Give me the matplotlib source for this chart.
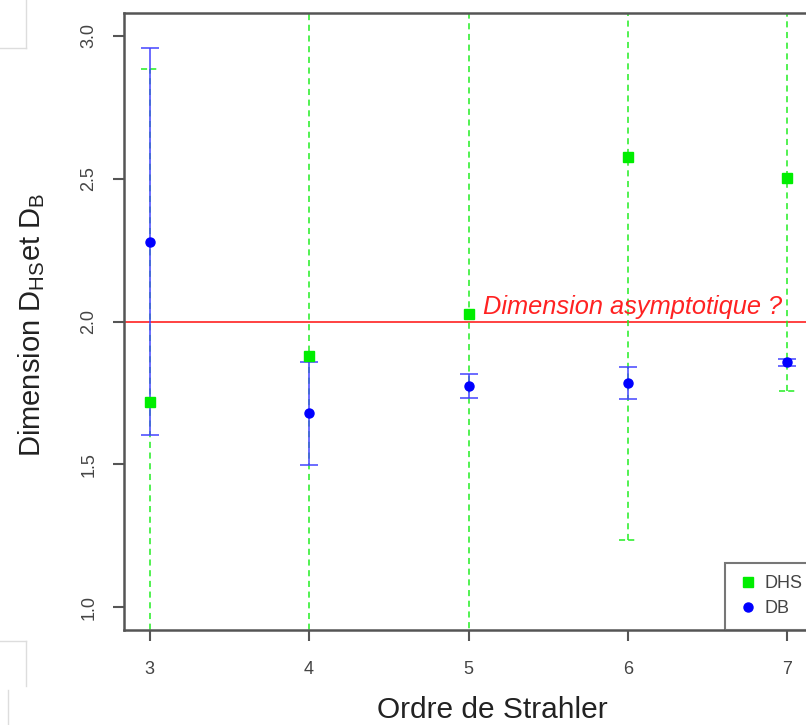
import numpy as np
import matplotlib
matplotlib.use("Agg")
from matplotlib import pyplot as plt
from matplotlib.lines import Line2D

plt.rcParams['font.family'] = ['Liberation Sans', 'DejaVu Sans']
plt.rcParams['mathtext.fontset'] = 'custom'
plt.rcParams['mathtext.rm'] = 'Liberation Sans'
plt.rcParams['mathtext.it'] = 'Liberation Sans:italic'

# ordre de Strahler
ordre = [3, 4, 5, 6, 7]
# DHS : valeur et demi-intervalle
dhs = [1.717, 1.878, 2.025, 2.577, 2.503]
dhs_err = [1.168, 1.30, 1.25, 1.343, 0.748]
# DB : valeur et demi-intervalle
db = [2.28, 1.678, 1.773, 1.783, 1.857]
db_err = [0.678, 0.18, 0.042, 0.056, 0.012]

y_ticks = [1.0, 1.5, 2.0, 2.5, 3.0]
asym = 2.0

axe_col = '#555555'

fig = plt.figure(figsize=(8.06, 7.25), dpi=100)
ax = fig.add_axes([124/806, 1-630/725, 689/806, 617/725])

# intervalles DHS en pointilles verts
eb = ax.errorbar(ordre, dhs, yerr=dhs_err, fmt='none', ecolor='#22ee22',
                 elinewidth=1.1, capsize=0, zorder=2)
for lc in eb[2]:
    lc.set_linestyle((0, (4, 3)))
for x, y, e in zip(ordre, dhs, dhs_err):
    for yy in (y - e, y + e):
        ax.plot([x - 0.055, x + 0.055], [yy, yy], color='#22ee22', lw=1.1,
                ls=(0, (4, 2)), zorder=2)

ax.errorbar(ordre, db, yerr=db_err, fmt='none', ecolor='#4444ff',
            elinewidth=1.1, capsize=6.5, capthick=1.1, zorder=3)

ax.axhline(asym, color='#ff3333', lw=1.3, zorder=1)
ax.text(5.094, 2.05, 'Dimension asymptotique ?', color='#ff2222',
        fontsize=18.3, fontstyle='italic', va='center', ha='left')

ax.plot(ordre, dhs, 's', color='#00ee00', ms=6.5, ls='none', label='DHS', zorder=4)
ax.plot(ordre, db, 'o', color='#0000ff', ms=6.5, ls='none', label='DB', zorder=5)

ax.set_xlim(2.84, 7.16)
ax.set_ylim(0.92, 3.08)
ax.set_xticks(ordre)
ax.set_yticks(y_ticks)
ax.set_yticklabels(['%.1f' % v for v in y_ticks], rotation=90, va='center')
ax.tick_params(axis='both', direction='out', length=8, width=1.5,
               color=axe_col, labelcolor='#444444', labelsize=13)
ax.tick_params(axis='x', pad=14)
ax.tick_params(axis='y', pad=11)
for s in ax.spines.values():
    s.set_color(axe_col)
    s.set_linewidth(1.8)

ax.set_xlabel('Ordre de Strahler', fontsize=21.5, color='#222222')
ax.xaxis.set_label_coords((492 - 124) / 689, -(710 - 630) / 617)
ax.xaxis.label.set_va('center')
ax.set_ylabel('Dimension D$_{\\mathrm{HS}}$et D$_{\\mathrm{B}}$', fontsize=21,
              color='#222222')
ax.yaxis.set_label_coords(-(124 - 32) / 689, (630 - 325) / 617)
ax.yaxis.label.set_va('center')

leg = ax.legend(loc='lower left', bbox_to_anchor=(725/806, 1-630/725),
                bbox_transform=fig.transFigure, fontsize=13, frameon=True,
                fancybox=False, borderaxespad=0, handletextpad=0.3,
                handlelength=1.2, borderpad=0.7, labelspacing=0.45)
leg.get_frame().set_edgecolor(axe_col)
leg.get_frame().set_linewidth(1.5)
for t in leg.get_texts():
    t.set_color('#444444')

# petits cadres gris a gauche (capture d'ecran)
gris = '#dddddd'
fig.add_artist(Line2D([26/806, 26/806], [1, 1-48/725], color=gris, lw=1))
fig.add_artist(Line2D([0, 26/806], [1-48/725, 1-48/725], color=gris, lw=1))
fig.add_artist(Line2D([0, 26/806], [1-641/725, 1-641/725], color=gris, lw=1))
fig.add_artist(Line2D([26/806, 26/806], [1-641/725, 1-686/725], color=gris, lw=1))
fig.add_artist(Line2D([8/806, 8/806], [1-690/725, 0], color=gris, lw=1))

fig.savefig('out.png', dpi=100)
